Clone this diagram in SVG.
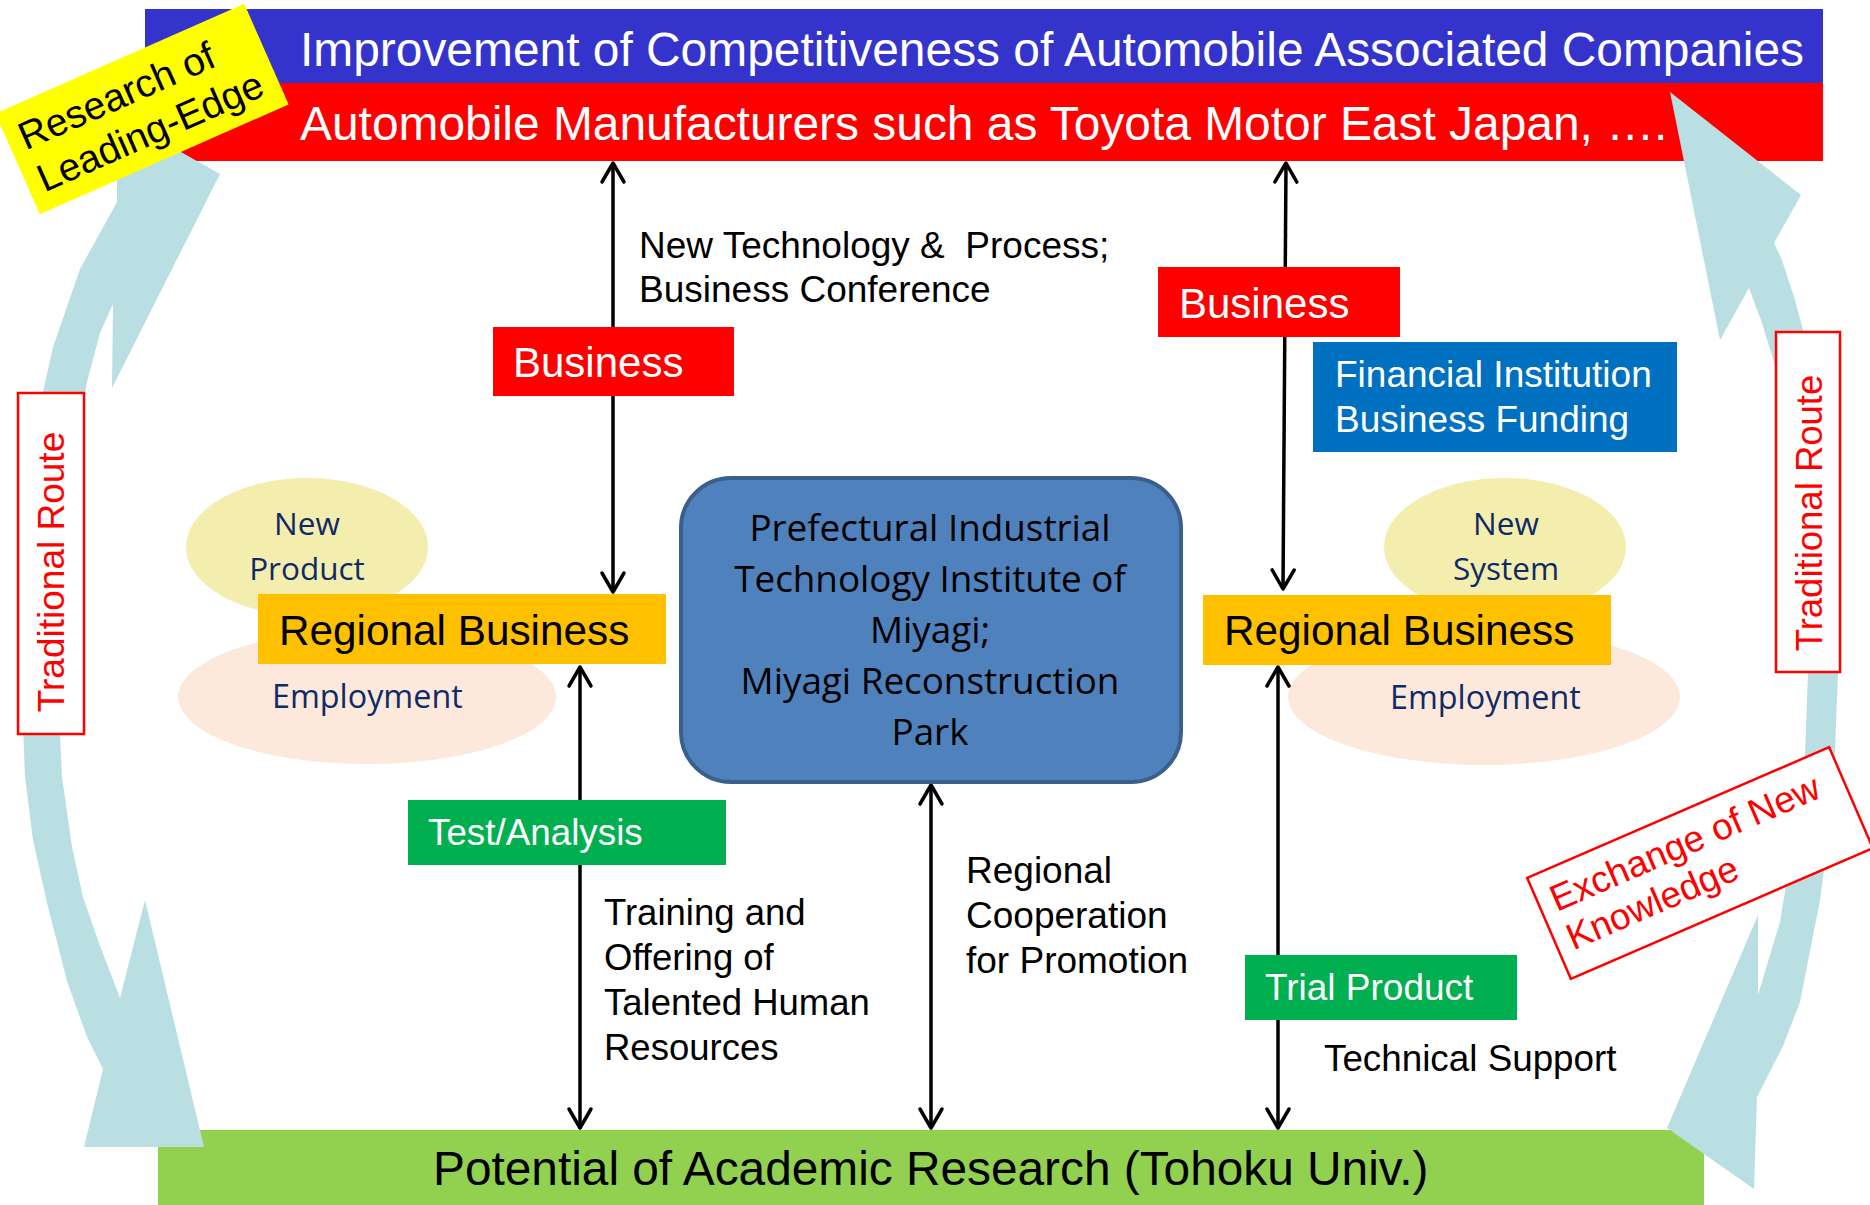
<svg xmlns="http://www.w3.org/2000/svg" width="1870" height="1205" viewBox="0 0 1870 1205">
<defs>
<style>
.ar{font-family:"Liberation Sans",Arial,sans-serif}
.cal{font-family:"Open Sans","Noto Sans",sans-serif}
.w{fill:#fff}
.k{fill:#000}
.navy{fill:#0F2A66}
.arc{fill:#B9DFE3}
.conn{stroke:#000;stroke-width:3.5;fill:none;marker-start:url(#ah);marker-end:url(#ah)}
.trad{fill:#fff;stroke:#FF0000;stroke-width:2.5}
</style>
<marker id="ah" viewBox="-24 -14 28 28" refX="0" refY="0" markerWidth="28" markerHeight="28" markerUnits="userSpaceOnUse" orient="auto-start-reverse" overflow="visible">
<path d="M-19,-11 L0,0 L-19,11" fill="none" stroke="#000" stroke-width="3.5" stroke-linejoin="round" stroke-linecap="round"/>
</marker>
</defs>
<rect width="1870" height="1205" fill="#fff"/>

<g id="top-bars">
<rect x="145" y="9" width="1678" height="75" fill="#3434CC"/>
<rect x="145" y="83" width="1678" height="78" fill="#FF0000"/>
<text class="ar w" x="300" y="66" font-size="47.9">Improvement of Competitiveness of Automobile Associated Companies</text>
<text class="ar w" x="300" y="140" font-size="47.9">Automobile Manufacturers such as Toyota Motor East Japan, ….</text>
</g>

<g id="bottom-bar">
<rect x="158" y="1130" width="1546" height="80" fill="#92D050"/>
<text class="ar k" x="433" y="1185" font-size="47.8">Potential of Academic Research (Tohoku Univ.)</text>
</g>

<g id="cycle-arrows">
<polygon class="arc" points="117,116 220,174 112,388 113,304 100,333 87,382 75,450 63,550 60,650 60,734 62,777 72,847 83,897 100,946 120,998 145,900 204,1147 84,1147 103,1069 87,1037 67,981 47,903 33,840 25,777 22,700 22,620 27,520 35,440 43,392 53,347 80,269 117,202"/>
<polygon class="arc" points="1670,92 1801,195 1774,243 1782,260 1795,300 1803,330 1815,400 1828,500 1836,600 1838,673 1835,750 1828,840 1820,900 1800,1002 1783,1046 1757,1097 1754,1189 1667,1128 1758,915 1758,995 1780,922 1795,830 1805,754 1808,673 1806,580 1798,480 1785,400 1773,359 1762,323 1749,288 1720,340"/>
</g>

<g id="label-leading-edge" transform="translate(142,109) rotate(-23.8)">
<rect x="-136" y="-55" width="272" height="110" fill="#FFFF00"/>
<text class="ar k" x="-123" y="-9" font-size="39">Research of</text>
<text class="ar k" x="-123" y="37" font-size="39">Leading-Edge</text>
</g>

<g id="label-trad-left">
<rect class="trad" x="18" y="393" width="66" height="341"/>
<text class="ar" fill="#FF0000" font-size="37" text-anchor="middle" transform="translate(64,572) rotate(-90)">Traditional Route</text>
</g>

<g id="label-trad-right">
<rect class="trad" x="1776" y="332" width="64" height="340"/>
<text class="ar" fill="#FF0000" font-size="36.5" text-anchor="middle" transform="translate(1822,513) rotate(-90)">Traditional Route</text>
</g>

<g id="label-exchange" transform="translate(1700,863) rotate(-23.4)">
<rect x="-164.5" y="-55" width="329" height="110" fill="#fff" stroke="#FF0000" stroke-width="2.5"/>
<text class="ar" fill="#FF0000" x="-151" y="-12" font-size="37">Exchange of New</text>
<text class="ar" fill="#FF0000" x="-151" y="30" font-size="37">Knowledge</text>
</g>

<g id="ellipses">
<ellipse cx="307" cy="547" rx="121" ry="69" fill="#F3EEAD"/>
<ellipse cx="367" cy="697" rx="189" ry="67" fill="#FCE9DC"/>
<ellipse cx="1505" cy="547" rx="121" ry="69" fill="#F3EEAD"/>
<ellipse cx="1484" cy="697" rx="196" ry="68" fill="#FCE9DC"/>
<text class="cal navy" x="307" y="535" font-size="31.5" text-anchor="middle">New</text>
<text class="cal navy" x="307" y="580" font-size="31.5" text-anchor="middle">Product</text>
<text class="cal navy" x="272" y="708" font-size="32.3">Employment</text>
<text class="cal navy" x="1506" y="535" font-size="31.5" text-anchor="middle">New</text>
<text class="cal navy" x="1506" y="580" font-size="31.5" text-anchor="middle">System</text>
<text class="cal navy" x="1390" y="709" font-size="32.3">Employment</text>
</g>

<g id="connectors">
<line class="conn" x1="613" y1="163" x2="613" y2="592"/>
<line class="conn" x1="1286" y1="163" x2="1283" y2="589"/>
<line class="conn" x1="580" y1="667" x2="580" y2="1128"/>
<line class="conn" x1="931" y1="785" x2="931" y2="1128"/>
<line class="conn" x1="1278" y1="667" x2="1278" y2="1128"/>
</g>

<g id="edge-labels">
<text class="ar k" font-size="37" x="639" y="258" xml:space="preserve">New Technology &amp;  Process;</text>
<text class="ar k" font-size="37" x="639" y="302">Business Conference</text>
<text class="ar k" font-size="36.5" x="604" y="925">Training and</text>
<text class="ar k" font-size="36.5" x="604" y="970">Offering of</text>
<text class="ar k" font-size="36.5" x="604" y="1015">Talented Human</text>
<text class="ar k" font-size="36.5" x="604" y="1060">Resources</text>
<text class="ar k" font-size="37" x="966" y="883">Regional</text>
<text class="ar k" font-size="37" x="966" y="928">Cooperation</text>
<text class="ar k" font-size="37" x="966" y="973">for Promotion</text>
<text class="ar k" font-size="36.8" x="1324" y="1071">Technical Support</text>
</g>

<g id="business-left">
<rect x="493" y="327" width="241" height="69" fill="#FF0000"/>
<text class="ar w" x="513" y="377" font-size="42">Business</text>
</g>

<g id="business-right">
<rect x="1158" y="267" width="242" height="70" fill="#FF0000"/>
<text class="ar w" x="1179" y="318" font-size="42">Business</text>
</g>

<g id="financial">
<rect x="1313" y="342" width="364" height="110" fill="#0070C0"/>
<text class="ar w" x="1335" y="387" font-size="37">Financial Institution</text>
<text class="ar w" x="1335" y="432" font-size="37">Business Funding</text>
</g>

<g id="regional-left">
<rect x="258" y="594" width="408" height="70" fill="#FFC000"/>
<text class="ar k" x="279" y="645" font-size="42.3">Regional Business</text>
</g>

<g id="regional-right">
<rect x="1203" y="595" width="408" height="70" fill="#FFC000"/>
<text class="ar k" x="1224" y="645" font-size="42.3">Regional Business</text>
</g>

<g id="miyagi">
<rect x="681" y="478" width="500" height="304" rx="50" ry="50" fill="#4F81BD" stroke="#3A5F8B" stroke-width="4"/>
<g class="cal k" font-size="36.8" text-anchor="middle">
<text x="930" y="541">Prefectural Industrial</text>
<text x="930" y="592">Technology Institute of</text>
<text x="930" y="643">Miyagi;</text>
<text x="930" y="694">Miyagi Reconstruction</text>
<text x="930" y="745">Park</text>
</g>
</g>

<g id="test-analysis">
<rect x="408" y="800" width="318" height="65" fill="#00B050"/>
<text class="ar w" x="428" y="845" font-size="36.8">Test/Analysis</text>
</g>

<g id="trial-product">
<rect x="1245" y="955" width="272" height="65" fill="#00B050"/>
<text class="ar w" x="1265" y="1000" font-size="37">Trial Product</text>
</g>
</svg>
